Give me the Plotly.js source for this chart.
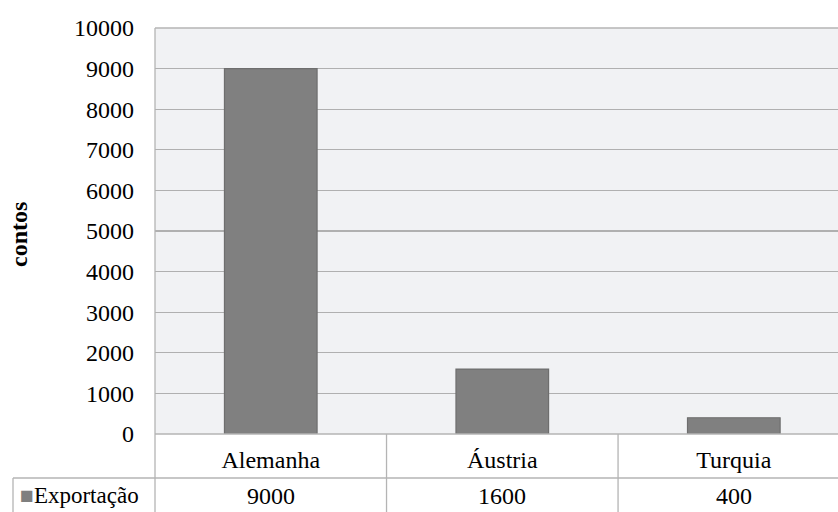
<!DOCTYPE html>
<html><head><meta charset="utf-8">
<script src="https://cdn.plot.ly/plotly-3.0.1.min.js"></script>
<style>body{margin:0;background:#fff}#c{width:838px;height:512px}</style>
</head><body><div id="c"></div>
<script>
const categories = ["Alemanha", "Áustria", "Turquia"];
const seriesName = "Exportação";
const exportValues = [9000, 1600, 400];
const yTicks = [0,1000,2000,3000,4000,5000,6000,7000,8000,9000,10000];
const yTitle = "contos";

const font = "Liberation Serif";
const lineCol = "#b4b4b4";
const plotH = 406, plotW = 683;
const py = px => -(px - 434) / plotH; // pixel row -> paper y
const pxX = px => (px - 155) / plotW;

const shapes = [
  {type:'line', xref:'paper', yref:'paper', x0:0, x1:1.02, y0:0, y1:0, line:{color:lineCol,width:1.3}},
  {type:'line', xref:'paper', yref:'paper', x0:pxX(13), x1:1.02, y0:py(478), y1:py(478), line:{color:lineCol,width:1.3}},
  {type:'line', xref:'paper', yref:'paper', x0:pxX(13), x1:pxX(13), y0:py(478), y1:py(520), line:{color:lineCol,width:1.3}},
  {type:'line', xref:'paper', yref:'paper', x0:0, x1:0, y0:1, y1:py(520), line:{color:lineCol,width:1.3}},
  {type:'line', xref:'paper', yref:'paper', x0:0, x1:1.02, y0:1, y1:1, line:{color:lineCol,width:1.3}}
];
for (let i = 0; i < categories.length - 1; i++) {
  shapes.push({type:'line', xref:'x', yref:'paper', x0:i+0.5, x1:i+0.5, y0:0, y1:py(520), line:{color:lineCol,width:1.3}});
}

const annotations = [
  {xref:'paper', yref:'paper', x:pxX(19), y:py(235), xanchor:'center', yanchor:'middle',
   text:'<b>'+yTitle+'</b>', textangle:-90, showarrow:false,
   font:{family:font, size:24, color:'#000'}},
  {xref:'paper', yref:'paper', x:pxX(18), y:py(496), xanchor:'left', yanchor:'middle', showarrow:false,
   text:'<span style="color:#7f7f7f">■</span>'+seriesName, font:{family:font, size:23, color:'#000'}}
];
exportValues.forEach((v, i) => {
  annotations.push({xref:'x', yref:'paper', x:categories[i], y:py(496), xanchor:'center', yanchor:'middle', showarrow:false,
    text:String(v), font:{family:font, size:24, color:'#000'}});
});

Plotly.newPlot('c', [{
  type:'bar', x:categories, y:exportValues, name:seriesName,
  width:0.4,
  marker:{color:'#808080', line:{color:'#6e6e6e', width:1.2}}
}], {
  width:838, height:512,
  margin:{l:155, r:0, t:28, b:78, pad:0},
  paper_bgcolor:'#ffffff', plot_bgcolor:'#f1f2f4',
  showlegend:false,
  xaxis:{range:[-0.5, 2.45], showgrid:false, zeroline:false, showline:false, ticks:'',
    tickfont:{family:font, size:24, color:'#000'}, ticklabelstandoff:9, fixedrange:true},
  yaxis:{range:[0,10000], tickvals:yTicks, tickformat:'d', showgrid:true, gridcolor:'#b0b0b0', gridwidth:1.2,
    zeroline:false, showline:false, ticks:'', ticklabelstandoff:20,
    tickfont:{family:font, size:24, color:'#000'}, fixedrange:true},
  shapes:shapes, annotations:annotations
}, {staticPlot:true});
</script></body></html>
